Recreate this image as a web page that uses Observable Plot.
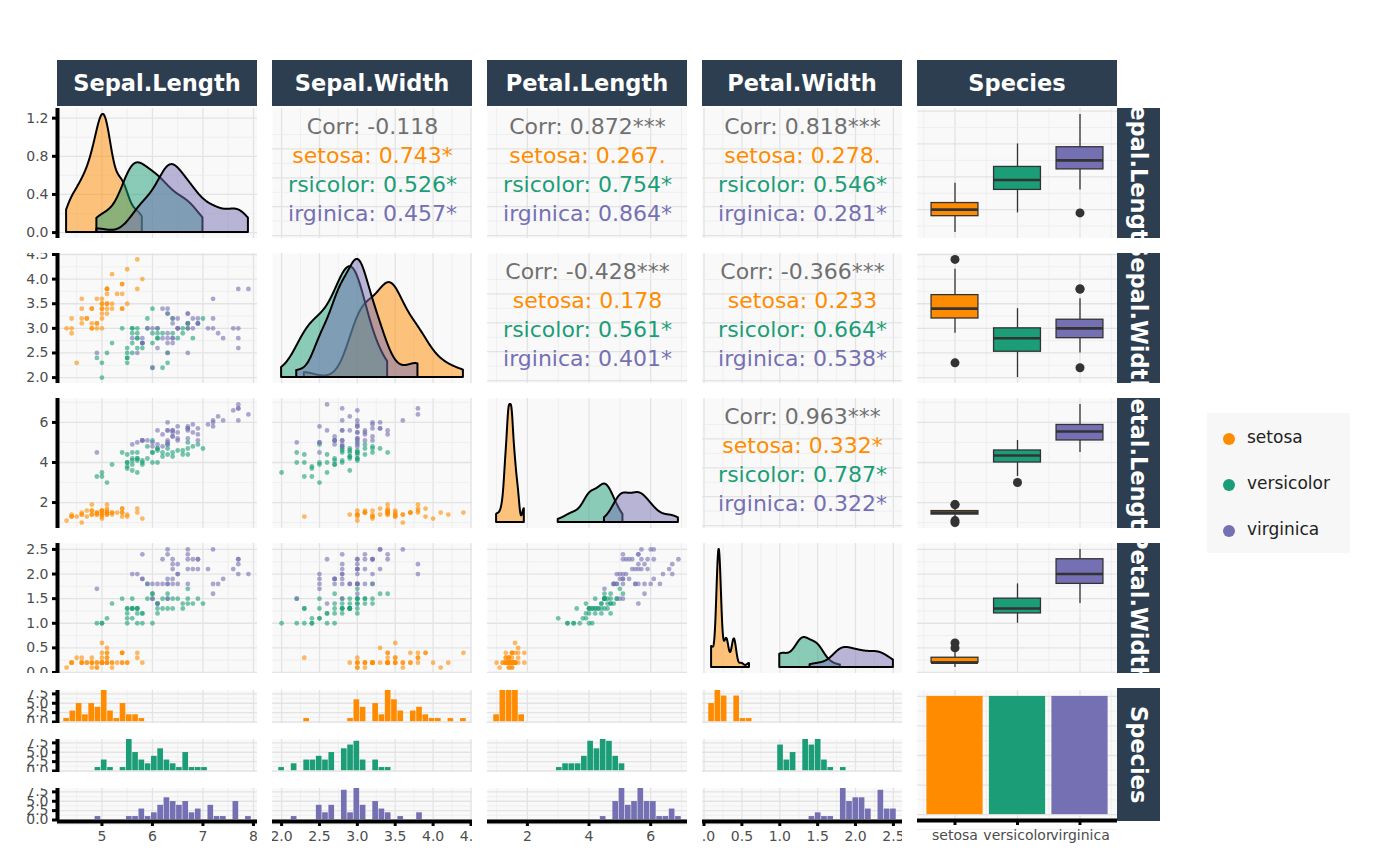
<!DOCTYPE html>
<html>
<head>
<meta charset="utf-8">
<script src="https://cdn.jsdelivr.net/npm/d3@7"></script>
<script src="https://cdn.jsdelivr.net/npm/@observablehq/plot@0.6"></script>
<style>
  body { margin: 0; background: #fff; font-family: "DejaVu Sans", sans-serif; }
  #chart { position: relative; width: 1400px; height: 866px; overflow: hidden; }
  .p { position: absolute; }
  .strip { position: absolute; background: #2c3e50; color: #fff; font-weight: bold; font-size: 22.5px;
           display: flex; align-items: center; justify-content: center; overflow: hidden; white-space: nowrap; }
  .strip.v span { writing-mode: vertical-rl; }
  #legend { position: absolute; left: 1207px; top: 413px; width: 143px; height: 140px; background: #f7f7f7; }
  .li { position: absolute; left: 22px; font-size: 17px; color: #222; }
  .li i { position: absolute; left: -6px; top: 6px; width: 12px; height: 12px; border-radius: 50%; }
</style>
</head>
<body>
<div id="chart"></div>
<script>
// iris data
const sepalLength = [5.1,4.9,4.7,4.6,5.0,5.4,4.6,5.0,4.4,4.9,5.4,4.8,4.8,4.3,5.8,5.7,5.4,5.1,5.7,5.1,5.4,5.1,4.6,5.1,4.8,5.0,5.0,5.2,5.2,4.7,4.8,5.4,5.2,5.5,4.9,5.0,5.5,4.9,4.4,5.1,5.0,4.5,4.4,5.0,5.1,4.8,5.1,4.6,5.3,5.0,
  7.0,6.4,6.9,5.5,6.5,5.7,6.3,4.9,6.6,5.2,5.0,5.9,6.0,6.1,5.6,6.7,5.6,5.8,6.2,5.6,5.9,6.1,6.3,6.1,6.4,6.6,6.8,6.7,6.0,5.7,5.5,5.5,5.8,6.0,5.4,6.0,6.7,6.3,5.6,5.5,5.5,6.1,5.8,5.0,5.6,5.7,5.7,6.2,5.1,5.7,
  6.3,5.8,7.1,6.3,6.5,7.6,4.9,7.3,6.7,7.2,6.5,6.4,6.8,5.7,5.8,6.4,6.5,7.7,7.7,6.0,6.9,5.6,7.7,6.3,6.7,7.2,6.2,6.1,6.4,7.2,7.4,7.9,6.4,6.3,6.1,7.7,6.3,6.4,6.0,6.9,6.7,6.9,5.8,6.8,6.7,6.7,6.3,6.5,6.2,5.9];
const sepalWidth = [3.5,3.0,3.2,3.1,3.6,3.9,3.4,3.4,2.9,3.1,3.7,3.4,3.0,3.0,4.0,4.4,3.9,3.5,3.8,3.8,3.4,3.7,3.6,3.3,3.4,3.0,3.4,3.5,3.4,3.2,3.1,3.4,4.1,4.2,3.1,3.2,3.5,3.6,3.0,3.4,3.5,2.3,3.2,3.5,3.8,3.0,3.8,3.2,3.7,3.3,
  3.2,3.2,3.1,2.3,2.8,2.8,3.3,2.4,2.9,2.7,2.0,3.0,2.2,2.9,2.9,3.1,3.0,2.7,2.2,2.5,3.2,2.8,2.5,2.8,2.9,3.0,2.8,3.0,2.9,2.6,2.4,2.4,2.7,2.7,3.0,3.4,3.1,2.3,3.0,2.5,2.6,3.0,2.6,2.3,2.7,3.0,2.9,2.9,2.5,2.8,
  3.3,2.7,3.0,2.9,3.0,3.0,2.5,2.9,2.5,3.6,3.2,2.7,3.0,2.5,2.8,3.2,3.0,3.8,2.6,2.2,3.2,2.8,2.8,2.7,3.3,3.2,2.8,3.0,2.8,3.0,2.8,3.8,2.8,2.8,2.6,3.0,3.4,3.1,3.0,3.1,3.1,3.1,2.7,3.2,3.3,3.0,2.5,3.0,3.4,3.0];
const petalLength = [1.4,1.4,1.3,1.5,1.4,1.7,1.4,1.5,1.4,1.5,1.5,1.6,1.4,1.1,1.2,1.5,1.3,1.4,1.7,1.5,1.7,1.5,1.0,1.7,1.9,1.6,1.6,1.5,1.4,1.6,1.6,1.5,1.5,1.4,1.5,1.2,1.3,1.4,1.3,1.5,1.3,1.3,1.3,1.6,1.9,1.4,1.6,1.4,1.5,1.4,
  4.7,4.5,4.9,4.0,4.6,4.5,4.7,3.3,4.6,3.9,3.5,4.2,4.0,4.7,3.6,4.4,4.5,4.1,4.5,3.9,4.8,4.0,4.9,4.7,4.3,4.4,4.8,5.0,4.5,3.5,3.8,3.7,3.9,5.1,4.5,4.5,4.7,4.4,4.1,4.0,4.4,4.6,4.0,3.3,4.2,4.2,4.2,4.3,3.0,4.1,
  6.0,5.1,5.9,5.6,5.8,6.6,4.5,6.3,5.8,6.1,5.1,5.3,5.5,5.0,5.1,5.3,5.5,6.7,6.9,5.0,5.7,4.9,6.7,4.9,5.7,6.0,4.8,4.9,5.6,5.8,6.1,6.4,5.6,5.1,5.6,6.1,5.6,5.5,4.8,5.4,5.6,5.1,5.1,5.9,5.7,5.2,5.0,5.2,5.4,5.1];
const petalWidth = [0.2,0.2,0.2,0.2,0.2,0.4,0.3,0.2,0.2,0.1,0.2,0.2,0.1,0.1,0.2,0.4,0.4,0.3,0.3,0.3,0.2,0.4,0.2,0.5,0.2,0.2,0.4,0.2,0.2,0.2,0.2,0.4,0.1,0.2,0.2,0.2,0.2,0.1,0.2,0.2,0.3,0.3,0.2,0.6,0.4,0.3,0.2,0.2,0.2,0.2,
  1.4,1.5,1.5,1.3,1.5,1.3,1.6,1.0,1.3,1.4,1.0,1.5,1.0,1.4,1.3,1.4,1.5,1.0,1.5,1.1,1.8,1.3,1.5,1.2,1.3,1.4,1.4,1.7,1.5,1.0,1.1,1.0,1.2,1.6,1.5,1.6,1.5,1.3,1.3,1.3,1.2,1.4,1.2,1.0,1.3,1.2,1.3,1.3,1.1,1.3,
  2.5,1.9,2.1,1.8,2.2,2.1,1.7,1.8,1.8,2.5,2.0,1.9,2.1,2.0,2.4,2.3,1.8,2.2,2.3,1.5,2.3,2.0,2.0,1.8,2.1,1.8,1.8,1.8,2.1,1.6,1.9,2.0,2.2,1.5,1.4,2.3,2.4,1.8,1.8,2.1,2.4,2.3,1.9,2.3,2.5,2.3,1.9,2.0,2.3,1.8];
const speciesNames = ["setosa", "versicolor", "virginica"];
const speciesCounts = [50, 50, 50];
const speciesColors = ["#ff8c00", "#1b9e77", "#7570b3"];
const varNames = ["Sepal.Length", "Sepal.Width", "Petal.Length", "Petal.Width"];
const stripRight = ["Sepal.Length", "Sepal.Width", "Petal.Length", "Petal.Width", "Species"];
// correlation labels as printed, [row][col]
const corrText = {
  "0,1": ["Corr: -0.118", "setosa: 0.743*", "rsicolor: 0.526*", "irginica: 0.457*"],
  "0,2": ["Corr: 0.872***", "setosa: 0.267.", "rsicolor: 0.754*", "irginica: 0.864*"],
  "0,3": ["Corr: 0.818***", "setosa: 0.278.", "rsicolor: 0.546*", "irginica: 0.281*"],
  "1,2": ["Corr: -0.428***", "setosa: 0.178", "rsicolor: 0.561*", "irginica: 0.401*"],
  "1,3": ["Corr: -0.366***", "setosa: 0.233", "rsicolor: 0.664*", "irginica: 0.538*"],
  "2,3": ["Corr: 0.963***", "setosa: 0.332*", "rsicolor: 0.787*", "irginica: 0.322*"]
};
const varTicks = [[5, 6, 7, 8], [2, 2.5, 3, 3.5, 4, 4.5], [2, 4, 6], [0, 0.5, 1, 1.5, 2, 2.5]];
const varFormats = ["d", ".1f", "d", ".1f"];
const densTicks = [0, 0.4, 0.8, 1.2];
const histTicks = [0, 2.5, 5, 7.5];

const species = speciesNames.flatMap((s, i) => Array(speciesCounts[i]).fill(s));
const cols = [sepalLength, sepalWidth, petalLength, petalWidth];
const rows = species.map((sp, i) => ({sp, si: speciesNames.indexOf(sp), v: cols.map(c => c[i])}));
const color = {domain: speciesNames, range: speciesColors};

const colL = [57, 272, 487, 702, 917], W = 200;
const rowT = [108, 253, 398, 543], H = 130;
const histT = [690, 739, 788], HH = 33;

const chart = document.getElementById("chart");
const expand = ([a, b]) => [a - (b - a) * 0.05, b + (b - a) * 0.05];
const doms = cols.map(c => expand(d3.extent(c)));
const minor = t => { const s = t[1] - t[0]; return d3.range(t[0] - s / 2, t[t.length - 1] + s, s); };
const sortNum = a => Array.from(a).sort((x, y) => x - y);

function place(plot, left, top) {
  const d = document.createElement("div");
  d.className = "p"; d.style.left = left + "px"; d.style.top = top + "px";
  d.appendChild(plot); chart.appendChild(d);
}
function bg(xt, yt) {
  const m = [Plot.frame({fill: "#f9f9f9", stroke: null})];
  if (xt) m.push(Plot.gridX(minor(xt), {stroke: "#ececec", strokeOpacity: 1, strokeWidth: 0.8}),
                 Plot.gridX(xt, {stroke: "#e3e3e3", strokeOpacity: 1, strokeWidth: 1.3}));
  if (yt) m.push(Plot.gridY(minor(yt), {stroke: "#ececec", strokeOpacity: 1, strokeWidth: 0.8}),
                 Plot.gridY(yt, {stroke: "#e3e3e3", strokeOpacity: 1, strokeWidth: 1.3}));
  return m;
}
function leftAxis(ticks, fmt, xmin) {
  return [
    Plot.ruleX([xmin], {stroke: "black", strokeWidth: 4}),
    Plot.axisY(ticks, {anchor: "left", tickSize: 5, strokeWidth: 3, stroke: "black", tickFormat: () => "", label: null}),
    Plot.axisY(ticks, {anchor: "left", tickSize: 0, tickPadding: 9, color: "#4d4d4d", fontSize: 14, tickFormat: fmt, label: null})
  ];
}
function bottomAxis(ticks, fmt, ymin) {
  return [
    Plot.ruleY([ymin], {stroke: "black", strokeWidth: 4}),
    Plot.axisX(ticks, {anchor: "bottom", tickSize: 5, strokeWidth: 3, stroke: "black", tickFormat: () => "", label: null}),
    Plot.axisX(ticks, {anchor: "bottom", tickSize: 0, tickPadding: 10, color: "#4d4d4d", fontSize: 14, tickFormat: fmt, label: null})
  ];
}
function mk(j, h, mb, xdom, ydom, marks) {
  const ml = j === 0 ? 57 : 0;
  return Plot.plot({
    width: W + ml, height: h + mb, marginLeft: ml, marginRight: 0, marginTop: 0, marginBottom: mb,
    x: {domain: xdom, axis: null}, y: {domain: ydom, axis: null},
    color, style: {fontFamily: "DejaVu Sans", overflow: "hidden", background: "transparent"},
    marks
  });
}
function kde(vals) {
  const n = vals.length, s = sortNum(vals);
  const sd = d3.deviation(s), iqr = d3.quantile(s, 0.75) - d3.quantile(s, 0.25);
  const bw = 0.9 * Math.min(sd, iqr / 1.34) * Math.pow(n, -0.2);
  const [a, b] = d3.extent(s);
  return d3.range(512).map(k => {
    const x = a + (b - a) * k / 511;
    const y = d3.sum(s, v => Math.exp(-0.5 * ((x - v) / bw) ** 2)) / (n * bw * Math.sqrt(2 * Math.PI));
    return {x, y};
  });
}
function boxStats(vals) {
  const s = sortNum(vals);
  const q1 = d3.quantile(s, 0.25), q2 = d3.quantile(s, 0.5), q3 = d3.quantile(s, 0.75), r = 1.5 * (q3 - q1);
  const inn = s.filter(v => v >= q1 - r && v <= q3 + r);
  return {q1, q2, q3, lo: d3.min(inn), hi: d3.max(inn), out: s.filter(v => v < q1 - r || v > q3 + r)};
}

// top strips
[...varNames, "Species"].forEach((t, j) => {
  const d = document.createElement("div");
  d.className = "strip"; d.textContent = t;
  Object.assign(d.style, {left: colL[j] + "px", top: "60px", width: W + "px", height: "46px"});
  chart.appendChild(d);
});
// right strips
stripRight.forEach((t, i) => {
  const d = document.createElement("div");
  d.className = "strip v"; d.innerHTML = "<span>" + t + "</span>";
  const top = i < 4 ? rowT[i] : 688, h = i < 4 ? H : 133;
  Object.assign(d.style, {left: "1117px", top: top + "px", width: "43px", height: h + "px"});
  chart.appendChild(d);
});

for (let i = 0; i < 4; i++) {
  for (let j = 0; j < 5; j++) {
    const left = j === 0 ? 0 : colL[j];
    let marks, xdom, ydom;
    if (j === 4) {
      // boxplots
      xdom = [0.4, 3.6]; ydom = doms[i];
      const st = speciesNames.map((sp, k) => ({sp, x: k + 1, ...boxStats(rows.filter(r => r.sp === sp).map(r => r.v[i]))}));
      const outs = st.flatMap(s => s.out.map(v => ({x: s.x, v})));
      marks = [
        ...bg([1, 2, 3], varTicks[i]),
        Plot.ruleX(st, {x: "x", y1: "lo", y2: "q1", stroke: "#333", strokeWidth: 1.3}),
        Plot.ruleX(st, {x: "x", y1: "q3", y2: "hi", stroke: "#333", strokeWidth: 1.3}),
        Plot.rect(st, {x1: d => d.x - 0.375, x2: d => d.x + 0.375, y1: "q1", y2: "q3", fill: "sp", stroke: "#333", strokeWidth: 1.3}),
        Plot.ruleY(st, {y: "q2", x1: d => d.x - 0.375, x2: d => d.x + 0.375, stroke: "#333", strokeWidth: 2.6}),
        Plot.dot(outs, {x: "x", y: "v", r: 4.5, fill: "#333"})
      ];
    } else if (i === j) {
      xdom = doms[j];
      const dens = speciesNames.map(sp => kde(rows.filter(r => r.sp === sp).map(r => r.v[j])).map(d => ({...d, sp})));
      const m = d3.max(dens.flat(), d => d.y);
      ydom = [-0.05 * m, 1.05 * m];
      marks = [...bg(varTicks[j], i === 0 ? densTicks : null)];
      dens.forEach(ds => marks.push(Plot.areaY(ds, {x: "x", y: "y", fill: "sp", fillOpacity: 0.5, stroke: "black", strokeWidth: 2})));
      if (j === 0) marks.push(...leftAxis(densTicks, d3.format(".1f"), xdom[0]));
    } else if (i > j) {
      xdom = doms[j]; ydom = doms[i];
      marks = [
        ...bg(varTicks[j], varTicks[i]),
        Plot.dot(rows, {x: d => d.v[j], y: d => d.v[i], fill: "sp", r: 2.4, fillOpacity: 0.6})
      ];
      if (j === 0) marks.push(...leftAxis(varTicks[i], d3.format(varFormats[i]), xdom[0]));
    } else {
      xdom = doms[j]; ydom = [3.85, -0.65];
      const lines = corrText[i + "," + j].map((t, k) => ({t, k}));
      marks = [
        ...bg(varTicks[j], [0.75, 1.75, 2.75, 3.75]),
        Plot.text(lines, {y: "k", text: "t", frameAnchor: "middle", fontSize: 22,
          fill: d => d.k === 0 ? "#707070" : speciesColors[d.k - 1]})
      ];
    }
    place(mk(j, H, 0, xdom, ydom, marks), left, rowT[i]);
  }
}

// histograms (bottom row)
for (let j = 0; j < 4; j++) {
  const [a, b] = d3.extent(cols[j]), bw = (b - a) / 29;
  const thresholds = d3.range(31).map(k => a - bw / 2 + k * bw);
  speciesNames.forEach((sp, k) => {
    const last = k === 2, mb = last ? 46 : 0;
    const ydom = [-0.4, 8.4];
    const marks = [
      ...bg(varTicks[j], histTicks),
      Plot.rectY(rows.filter(r => r.sp === sp), Plot.binX({y: "count"}, {x: d => d.v[j], thresholds, fill: speciesColors[k], inset: 0.3}))
    ];
    if (j === 0) marks.push(...leftAxis(histTicks, d3.format(".1f"), doms[0][0]));
    if (last) marks.push(...bottomAxis(varTicks[j], d3.format(varFormats[j]), ydom[0]));
    place(mk(j, HH, mb, doms[j], ydom, marks), j === 0 ? 0 : colL[j], histT[k]);
  });
}
// species bar panel
{
  const counts = speciesNames.map((sp, k) => ({sp, x: k + 1, n: speciesCounts[k]}));
  const ydom = [-2.5, 52.5];
  const marks = [
    ...bg([1, 2, 3], [0, 12.5, 25, 37.5, 50]),
    Plot.rectY(counts, {x1: d => d.x - 0.45, x2: d => d.x + 0.45, y1: 0, y2: "n", fill: "sp"}),
    ...bottomAxis([1, 2, 3], d => speciesNames[d - 1], ydom[0])
  ];
  place(mk(4, 130, 46, [0.4, 3.6], ydom, marks), colL[4], 690);
}

// legend
const lg = document.createElement("div");
lg.id = "legend";
speciesNames.forEach((sp, k) => {
  const d = document.createElement("div");
  d.className = "li"; d.style.top = (14 + k * 46) + "px";
  d.innerHTML = `<i style="background:${speciesColors[k]}"></i><span style="margin-left:18px">${sp}</span>`;
  lg.appendChild(d);
});
chart.appendChild(lg);
</script>
</body>
</html>
